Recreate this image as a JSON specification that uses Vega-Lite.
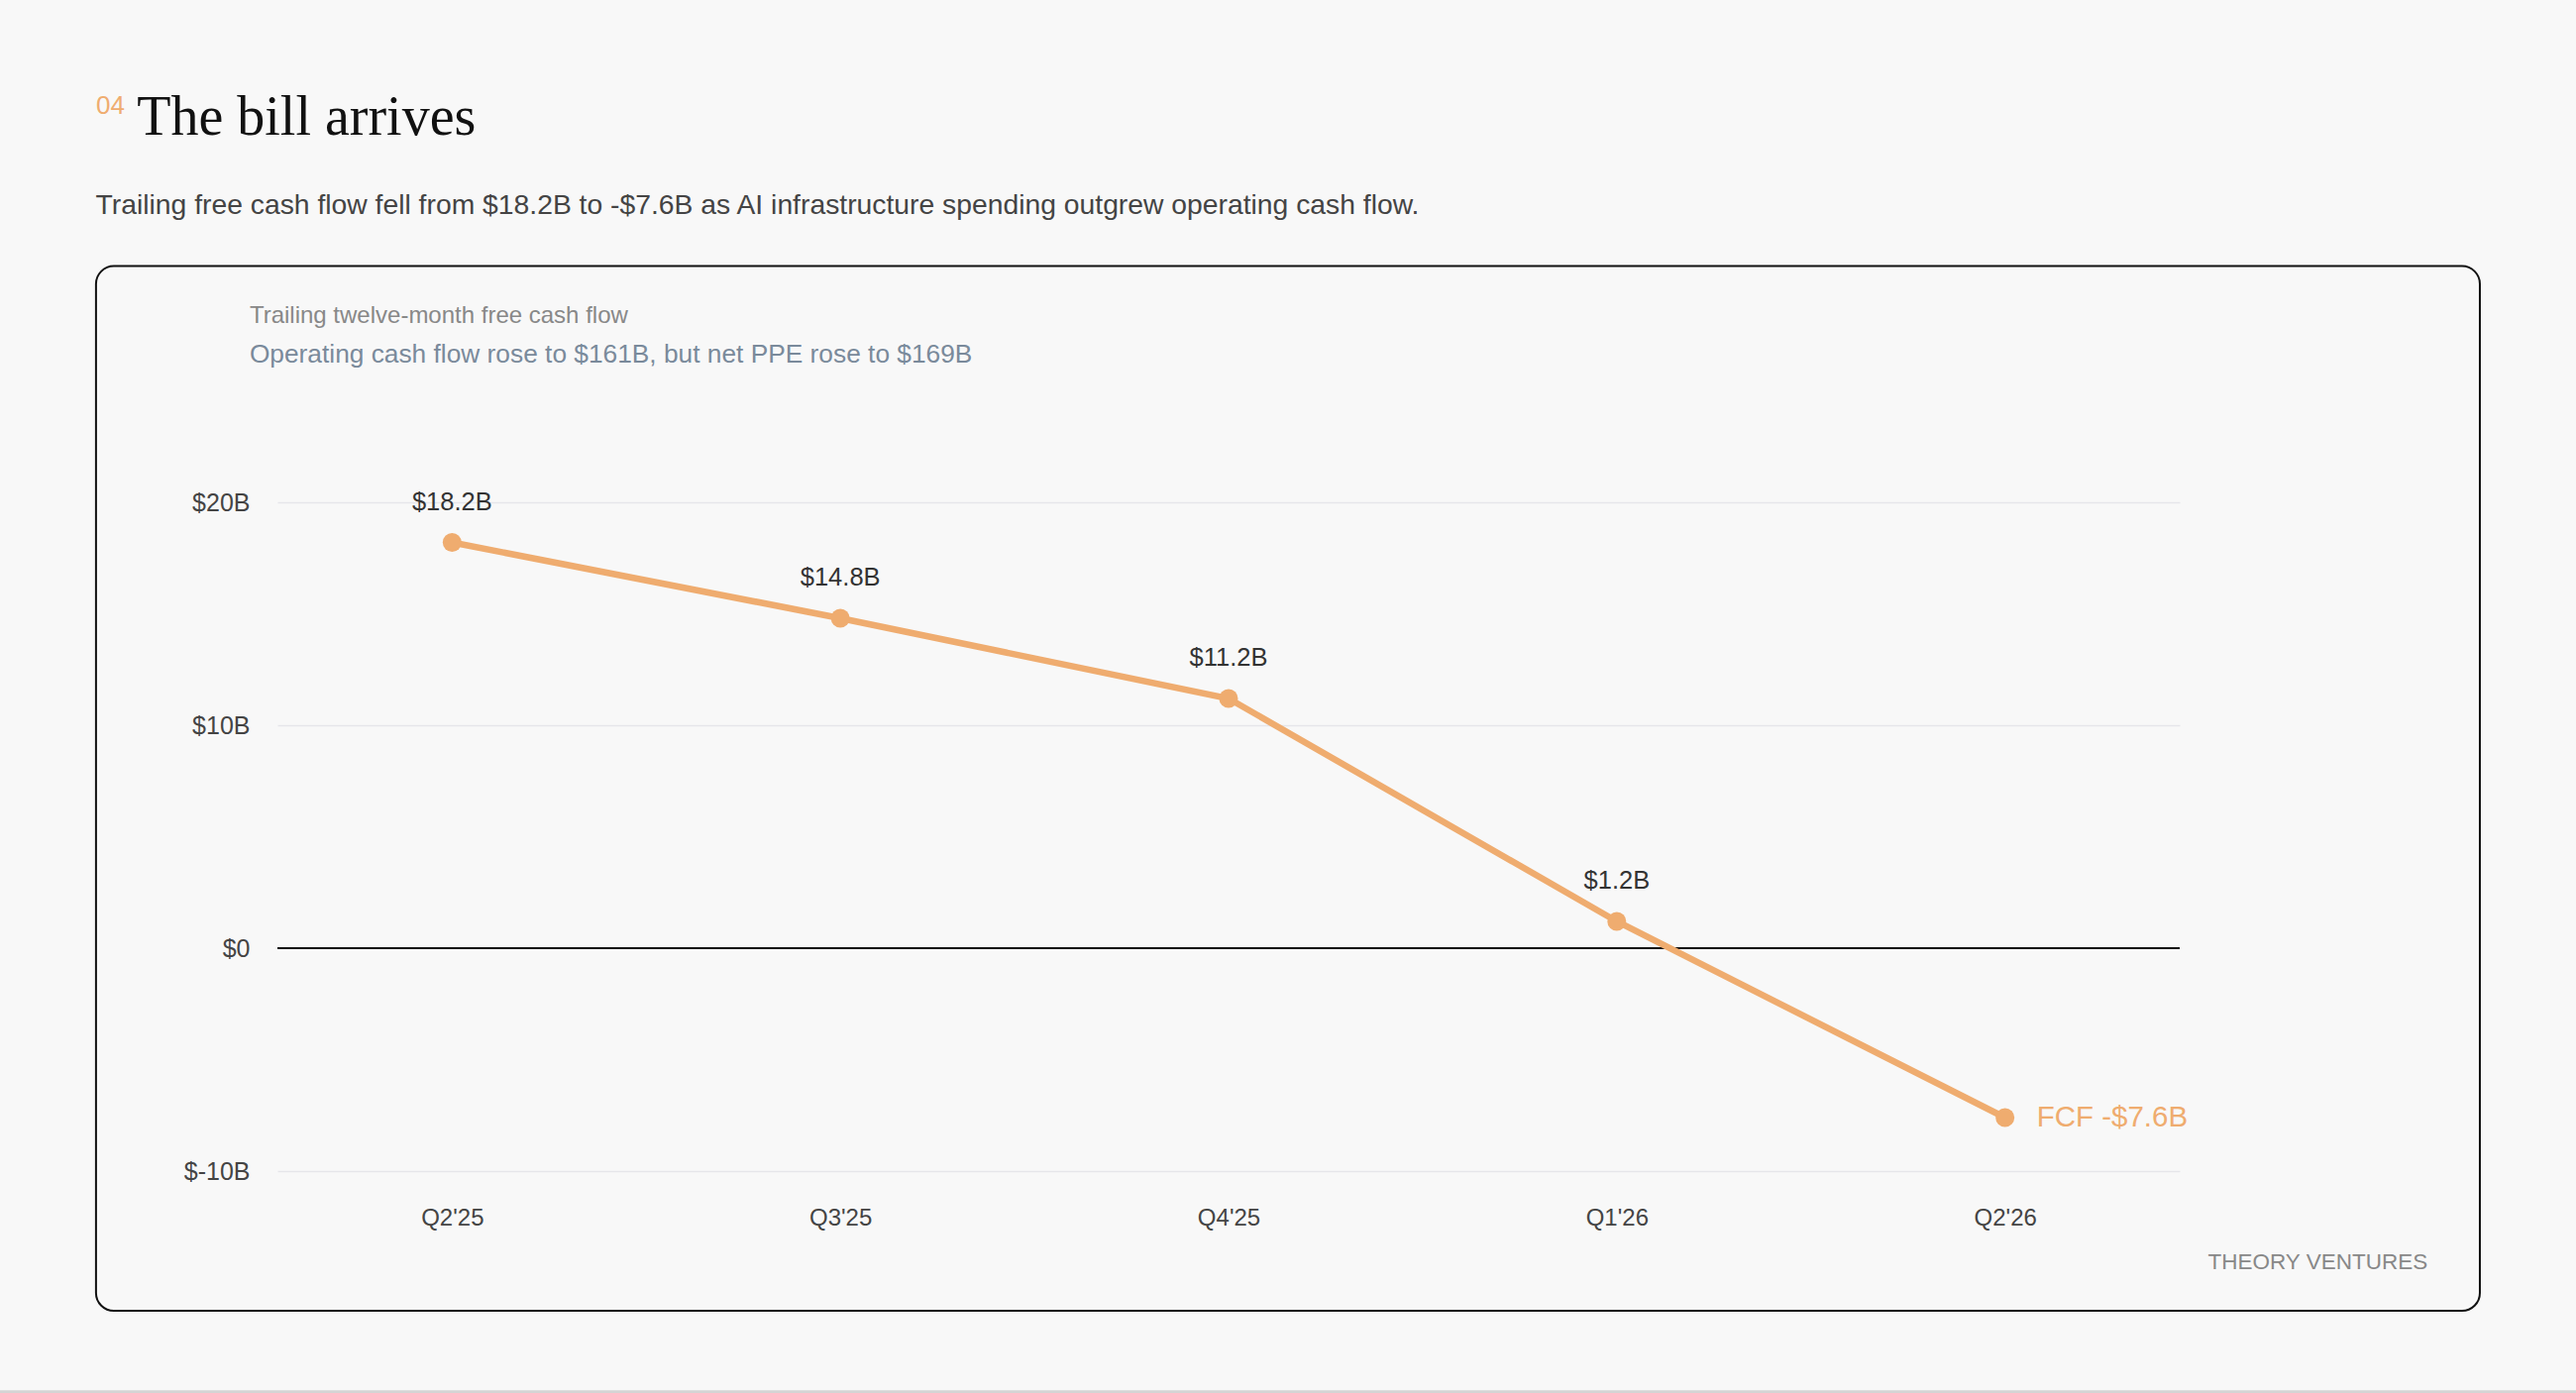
{
  "$schema": "https://vega.github.io/schema/vega-lite/v6.json",
  "width": 1920,
  "height": 675,
  "autosize": {"type": "none"},
  "padding": {"left": 280, "top": 507, "right": 400, "bottom": 224},
  "background": "#f8f8f8",
  "config": {"view": {"stroke": null}, "font": "Liberation Sans"},
  "resolve": {"scale": {"x": "independent"}, "axis": {"x": "independent"}},
  "layer": [
    {
      "data": {"values": [{}]},
      "layer": [
        {
          "mark": {"type": "rect", "fill": null, "stroke": "#111111", "strokeWidth": 2, "cornerRadius": 18},
          "encoding": {
            "x": {"datum": -0.9161, "type": "quantitative", "scale": {"domain": [-0.449, 4.449]}, "axis": null},
            "x2": {"datum": 5.2219},
            "y": {"datum": 30.596, "type": "quantitative", "scale": {"domain": [-10, 20]}},
            "y2": {"datum": -16.267}
          }
        },
        {
          "mark": {"type": "rule", "color": "#d4d4d4", "strokeWidth": 3},
          "encoding": {
            "x": {"datum": -1.17, "type": "quantitative", "scale": {"domain": [-0.449, 4.449]}, "axis": null},
            "x2": {"datum": 5.48},
            "y": {"datum": -19.9, "type": "quantitative", "scale": {"domain": [-10, 20]}}
          }
        },
        {
          "mark": {"type": "text", "text": "04", "font": "Liberation Sans", "fontSize": 26, "color": "#efac6f", "align": "left", "baseline": "alphabetic"},
          "encoding": {
            "x": {"datum": -0.9158, "type": "quantitative", "scale": {"domain": [-0.449, 4.449]}, "axis": null},
            "y": {"datum": 37.41, "type": "quantitative", "scale": {"domain": [-10, 20]}}
          }
        },
        {
          "mark": {"type": "text", "text": "The bill arrives", "font": "Liberation Serif", "fontSize": 56, "color": "#111111", "align": "left", "baseline": "alphabetic"},
          "encoding": {
            "x": {"datum": -0.8107, "type": "quantitative", "scale": {"domain": [-0.449, 4.449]}, "axis": null},
            "y": {"datum": 36.48, "type": "quantitative", "scale": {"domain": [-10, 20]}}
          }
        },
        {
          "mark": {"type": "text", "text": "Trailing free cash flow fell from $18.2B to -$7.6B as AI infrastructure spending outgrew operating cash flow.", "fontSize": 28.3, "color": "#444444", "align": "left", "baseline": "alphabetic"},
          "encoding": {
            "x": {"datum": -0.9170, "type": "quantitative", "scale": {"domain": [-0.449, 4.449]}, "axis": null},
            "y": {"datum": 32.92, "type": "quantitative", "scale": {"domain": [-10, 20]}}
          }
        },
        {
          "mark": {"type": "text", "text": "Trailing twelve-month free cash flow", "fontSize": 24, "color": "#888888", "align": "left", "baseline": "alphabetic"},
          "encoding": {
            "x": {"datum": -0.5207, "type": "quantitative", "scale": {"domain": [-0.449, 4.449]}, "axis": null},
            "y": {"datum": 28.03, "type": "quantitative", "scale": {"domain": [-10, 20]}}
          }
        },
        {
          "mark": {"type": "text", "text": "Operating cash flow rose to $161B, but net PPE rose to $169B", "fontSize": 26.3, "color": "#7a8a9b", "align": "left", "baseline": "alphabetic"},
          "encoding": {
            "x": {"datum": -0.5207, "type": "quantitative", "scale": {"domain": [-0.449, 4.449]}, "axis": null},
            "y": {"datum": 26.25, "type": "quantitative", "scale": {"domain": [-10, 20]}}
          }
        },
        {
          "mark": {"type": "text", "text": "THEORY VENTURES", "fontSize": 22.5, "color": "#888888", "align": "right", "baseline": "middle"},
          "encoding": {
            "x": {"datum": 5.0872, "type": "quantitative", "scale": {"domain": [-0.449, 4.449]}, "axis": null},
            "y": {"datum": -14.10, "type": "quantitative", "scale": {"domain": [-10, 20]}}
          }
        }
      ]
    },
    {
      "data": {
        "values": [
          {"quarter": "Q2'25", "fcf": 18.2, "label": "$18.2B"},
          {"quarter": "Q3'25", "fcf": 14.8, "label": "$14.8B"},
          {"quarter": "Q4'25", "fcf": 11.2, "label": "$11.2B"},
          {"quarter": "Q1'26", "fcf": 1.2, "label": "$1.2B"},
          {"quarter": "Q2'26", "fcf": -7.6, "label": "FCF -$7.6B"}
        ]
      },
      "encoding": {
        "x": {
          "field": "quarter",
          "type": "ordinal",
          "sort": null,
          "scale": {"type": "point", "padding": 0.45},
          "axis": {
            "title": null,
            "labelAngle": 0,
            "domain": false,
            "ticks": false,
            "tickSize": 0,
            "grid": false,
            "labelPadding": 47,
            "labelBaseline": "middle",
            "labelFontSize": 24,
            "labelColor": "#444444"
          }
        },
        "y": {
          "field": "fcf",
          "type": "quantitative",
          "scale": {"domain": [-10, 20], "nice": false, "zero": false},
          "axis": {
            "title": null,
            "values": [-10, 0, 10, 20],
            "labelExpr": "datum.value == 0 ? '$0' : '$' + datum.value + 'B'",
            "domain": false,
            "ticks": false,
            "tickSize": 0,
            "labelPadding": 28,
            "labelFontSize": 25,
            "labelColor": "#444444",
            "grid": true,
            "gridColor": "#e6e6ea",
            "gridWidth": 1.5
          }
        }
      },
      "layer": [
        {
          "mark": {"type": "rule", "color": "#111111", "strokeWidth": 2},
          "encoding": {
            "x": null,
            "y": {"datum": 0, "type": "quantitative"}
          }
        },
        {
          "mark": {"type": "line", "color": "#efac6f", "strokeWidth": 6.5}
        },
        {
          "mark": {"type": "circle", "color": "#efac6f", "size": 361, "opacity": 1}
        },
        {
          "transform": [{"filter": "datum.fcf > 0"}],
          "mark": {"type": "text", "fontSize": 25.5, "color": "#333333", "baseline": "middle", "dy": -41},
          "encoding": {"text": {"field": "label"}}
        },
        {
          "transform": [{"filter": "datum.fcf < 0"}],
          "mark": {"type": "text", "fontSize": 29.5, "color": "#efac6f", "align": "left", "baseline": "middle", "dx": 32},
          "encoding": {"text": {"field": "label"}}
        }
      ]
    }
  ]
}
